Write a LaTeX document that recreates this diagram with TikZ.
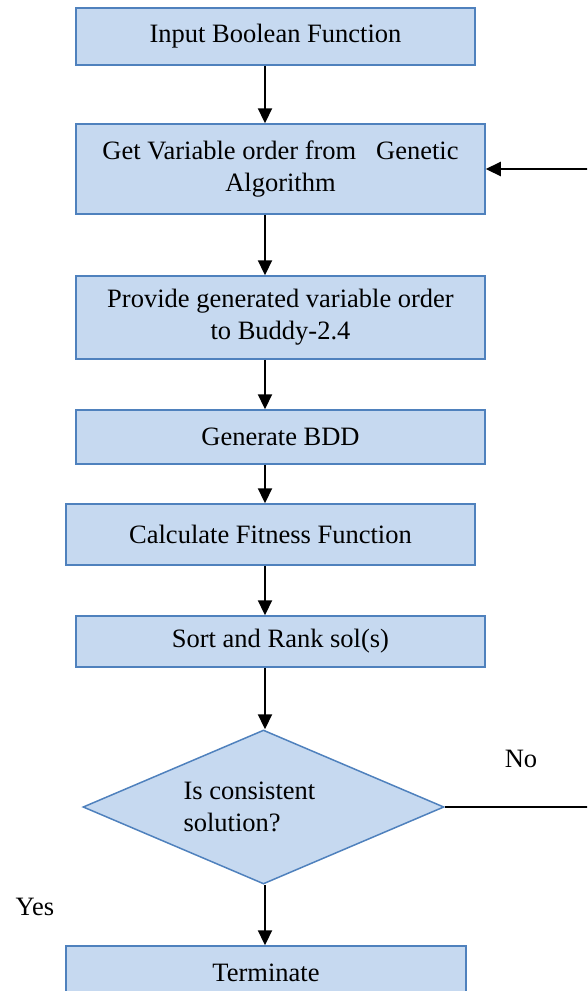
\documentclass[tikz,border=0pt]{standalone}
\usepackage{fontspec}
\setmainfont{Liberation Serif}
\usetikzlibrary{arrows.meta,shapes.geometric}
\definecolor{boxfill}{RGB}{198,217,240}
\definecolor{boxline}{RGB}{79,129,189}
\tikzset{
  procbox/.style={draw=boxline,fill=boxfill,line width=1.5pt,inner sep=0pt,
    align=center,font=\fontsize{26.5}{32}\selectfont},
  decision/.style={diamond,aspect=2.344,draw=boxline,fill=boxfill,line width=1.5pt,inner sep=0pt,
    minimum width=361pt,minimum height=154pt,font=\fontsize{26.5}{32}\selectfont},
  arr/.style={line width=2.2pt,-{Triangle[length=15pt,width=14pt]}},
  lbl/.style={font=\fontsize{26.5}{32}\selectfont}
}
\begin{document}
\begin{tikzpicture}[x=1pt,y=-1pt]
\useasboundingbox (0,0) rectangle (587,991);
\clip (0,0) rectangle (587,991);
\coordinate (axis) at (265,0);
% boxes
\node[procbox,minimum width=399pt,minimum height=57pt] (in) at (275.5,36.5) {Input Boolean Function};
\node[procbox,minimum width=409pt,minimum height=90pt] (getvar) at (280.5,169) {Get Variable order from \ \ Genetic\\Algorithm};
\node[procbox,minimum width=409pt,minimum height=83pt] (provide) at (280.5,317.5) {Provide generated variable order\\to Buddy-2.4};
\node[procbox,minimum width=409pt,minimum height=54pt] (bdd) at (280.5,437) {Generate BDD};
\node[procbox,minimum width=409pt,minimum height=61pt] (fit) at (270.5,534.5) {Calculate Fitness Function};
\node[procbox,minimum width=409pt,minimum height=51pt] (sort) at (280.5,641.5) {Sort and Rank sol(s)};
\node[decision] (check) at (263.5,807) {\parbox{160pt}{\raggedright Is consistent\\solution?}};
\node[procbox,minimum width=400pt,minimum height=54pt] (term) at (266,973) {Terminate};
% labels
\node[lbl] (no) at (521,759) {No};
\node[lbl] (yes) at (35,907) {Yes};
% arrows
\foreach \a/\b in {in/getvar,getvar/provide,provide/bdd,bdd/fit,fit/sort,sort/check,check/term}
  \draw[arr] (\a.south -| axis) -- (\b.north -| axis);
\coordinate (fb) at (610,807);
\draw[arr] (check.east) -- (fb) |- (getvar.east);
\end{tikzpicture}
\end{document}
